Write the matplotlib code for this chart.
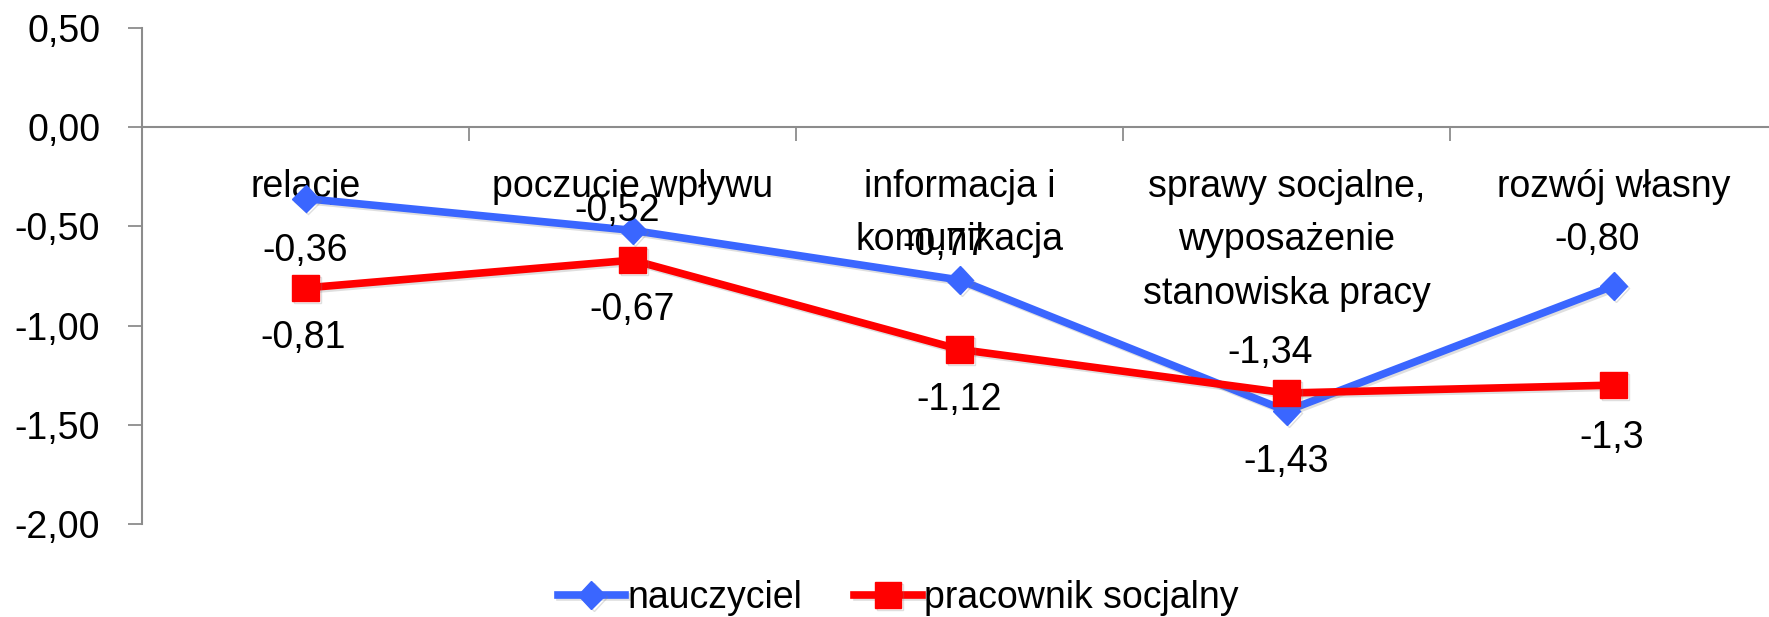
import numpy as np
import matplotlib.pyplot as plt
import matplotlib.patheffects as pe
from matplotlib.ticker import FuncFormatter

categories = ["relacje", "poczucie wpływu", "informacja i\nkomunikacja",
              "sprawy socjalne,\nwyposażenie\nstanowiska pracy", "rozwój własny"]
nauczyciel = [-0.36, -0.52, -0.77, -1.43, -0.80]
pracownik = [-0.81, -0.67, -1.12, -1.34, -1.3]
pracownik_labels = ["-0,81", "-0,67", "-1,12", "-1,34", "-1,3"]

# label offsets (pixels, dx, dy) - hand placed like in the source chart
off_n = [(0, -52), (-15, 19), (-15, 35), (0, -51), (-16, 46)]
off_p = [(-2, -50), (0, -50), (0, -51), (-16, 40), (-2, -53)]

plt.rcParams["font.family"] = ["Liberation Sans", "DejaVu Sans"]
FS = 27
BLUE = "#3A66FF"
RED = "#FF0000"
GRAY = "#8C8C8C"

W, H = 1769, 617
fig = plt.figure(figsize=(W / 100, H / 100), dpi=100)
ax = fig.add_axes([142 / W, 1 - 524 / H, (1777 - 142) / W, (524 - 28) / H])

x = np.arange(len(categories))
shadow = [pe.SimpleLineShadow(offset=(1.5, -1.5), alpha=0.25, shadow_color="gray"), pe.Normal()]
ax.plot(x, nauczyciel, color=BLUE, lw=5.5, marker="D", ms=14, label="nauczyciel",
        path_effects=shadow, zorder=3)
ax.plot(x, pracownik, color=RED, lw=5.5, marker="s", ms=19, label="pracownik socjalny",
        path_effects=shadow, zorder=4)

for i, v in enumerate(nauczyciel):
    ax.annotate(f"{v:.2f}".replace(".", ","), (x[i], v), xytext=off_n[i],
                textcoords="offset pixels", ha="center", va="center", fontsize=FS, zorder=6)
for i, v in enumerate(pracownik):
    ax.annotate(pracownik_labels[i], (x[i], v), xytext=off_p[i],
                textcoords="offset pixels", ha="center", va="center", fontsize=FS, zorder=6)

ax.set_xlim(-0.5, len(categories) - 0.5)
ax.set_ylim(-2.0, 0.5)
ax.set_yticks(np.arange(-2.0, 0.51, 0.5))
ax.yaxis.set_major_formatter(FuncFormatter(lambda v, p: f"{v:.2f}".replace(".", ",")))
ax.tick_params(axis="y", labelsize=FS, length=10, width=1.3, color=GRAY, pad=20)

for s in ["top", "right"]:
    ax.spines[s].set_visible(False)
ax.spines["left"].set_color(GRAY)
ax.spines["left"].set_linewidth(1.5)
ax.spines["bottom"].set_position(("data", 0))
ax.spines["bottom"].set_color(GRAY)
ax.spines["bottom"].set_linewidth(1.5)

ax.set_xticks(np.arange(-0.5, len(categories), 1.0))
ax.set_xticklabels([])
ax.tick_params(axis="x", which="major", length=10, width=1.3, color=GRAY, direction="out")
ax.set_xticks(x, minor=True)
ax.set_xticklabels(categories, minor=True, fontsize=FS, linespacing=1.62, va="top")
ax.tick_params(axis="x", which="minor", length=0, pad=30)

ax.legend(loc="center", bbox_to_anchor=(898 / W, 1 - 598 / H), bbox_transform=fig.transFigure,
          ncol=2, frameon=False, fontsize=FS, handlelength=1.8, handletextpad=0.05,
          columnspacing=1.4, borderpad=0)

fig.savefig("out.png", dpi=100, facecolor="white")
